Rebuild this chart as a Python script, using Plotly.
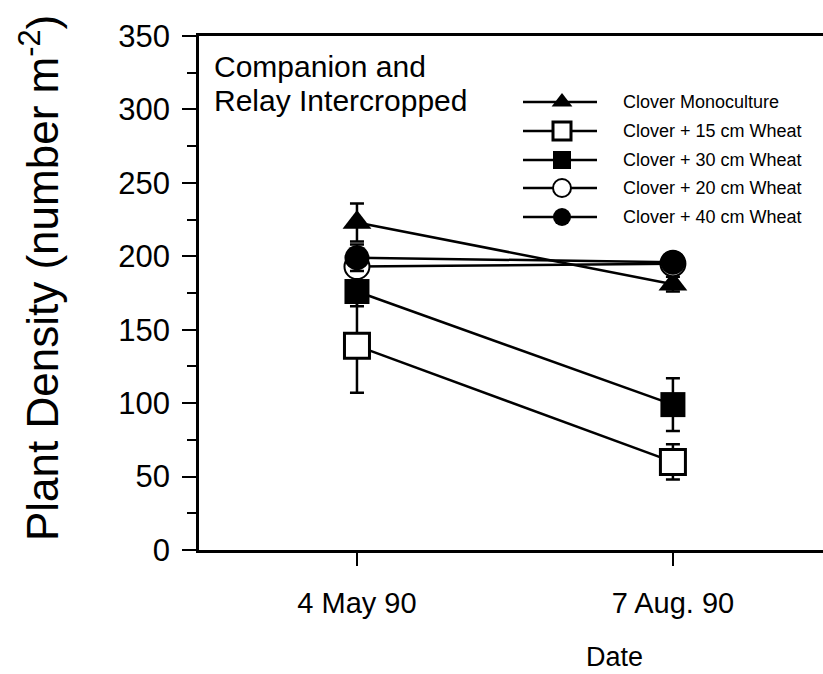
import plotly.graph_objects as go

# ---------------- data ----------------
dates = ["4 May 90", "7 Aug. 90"]
series_names = ["Clover Monoculture", "Clover + 15 cm Wheat", "Clover + 30 cm Wheat",
                "Clover + 20 cm Wheat", "Clover + 40 cm Wheat"]
mono = [223, 181]
mono_err = [13, 5]
w15 = [139, 60]
w15_err = [32, 12]
w30 = [176, 99]
w30_err = [10, 18]
w20 = [193, 195]
w20_err = [7, 6]
w40 = [199, 196]
w40_err = [9, 6]
y_ticks = [0, 50, 100, 150, 200, 250, 300, 350]

values = [mono, w15, w30, w20, w40]
errors = [mono_err, w15_err, w30_err, w20_err, w40_err]

# ---------------- styles ----------------
FONT = "Liberation Sans, Arial, Helvetica, sans-serif"
styles = [
    dict(symbol="triangle-up", color="black", lw=0, lc="black"),
    dict(symbol="square", color="white", lw=3, lc="black"),
    dict(symbol="square", color="black", lw=0, lc="black"),
    dict(symbol="circle", color="white", lw=2, lc="black"),
    dict(symbol="circle", color="black", lw=0, lc="black"),
]

W, H = 823, 674
L, R, T, B = 199, 0, 36, 124
PW, PH = W - L - R, H - T - B


def px(x):
    return (x - L) / PW


def py(y):
    return (H - B - y) / PH


fig = go.Figure()

for name, v, e, s in zip(series_names, values, errors, styles):
    fig.add_trace(go.Scatter(
        x=dates, y=v, name=name, mode="lines+markers",
        line=dict(color="black", width=2.5),
        marker=dict(symbol=s["symbol"], size=25, color=s["color"],
                    line=dict(color=s["lc"], width=s["lw"])),
        error_y=dict(type="data", array=e, visible=True, color="black",
                     thickness=2.5, width=7),
        showlegend=False, cliponaxis=False,
    ))

# ---------------- custom legend (overlay pixel axes) ----------------
leg_x0, leg_x1, leg_mx, leg_tx = 523, 597, 562, 621
leg_rows = [102, 131, 160, 188, 217]
for name, s, ry in zip(series_names, styles, leg_rows):
    fig.add_trace(go.Scatter(
        x=[leg_x0, leg_x1], y=[ry, ry], mode="lines",
        line=dict(color="black", width=2.5),
        xaxis="x2", yaxis="y2", showlegend=False, hoverinfo="skip", cliponaxis=False))
    fig.add_trace(go.Scatter(
        x=[leg_mx], y=[ry], mode="markers",
        marker=dict(symbol=s["symbol"], size=18, color=s["color"],
                    line=dict(color=s["lc"], width=s["lw"])),
        xaxis="x2", yaxis="y2", showlegend=False, hoverinfo="skip", cliponaxis=False))
    fig.add_annotation(x=px(leg_tx), y=py(ry), xref="paper", yref="paper",
                       text=name, showarrow=False, xanchor="left", yanchor="middle",
                       font=dict(family=FONT, size=18, color="black"))

# ---------------- text annotations ----------------
fig.add_annotation(x=px(212), y=py(66), xref="paper", yref="paper", text="Companion and",
                   showarrow=False, xanchor="left", yanchor="middle",
                   font=dict(family=FONT, size=30, color="black"))
fig.add_annotation(x=px(212), y=py(100), xref="paper", yref="paper", text="Relay Intercropped",
                   showarrow=False, xanchor="left", yanchor="middle",
                   font=dict(family=FONT, size=30, color="black"))
fig.add_annotation(x=px(614), y=py(657), xref="paper", yref="paper", text="Date",
                   showarrow=False, xanchor="center", yanchor="middle",
                   font=dict(family=FONT, size=27, color="black"))
fig.add_annotation(x=px(39), y=py(278), xref="paper", yref="paper",
                   text="Plant Density (number m<sup>-2</sup>)", textangle=-90,
                   showarrow=False, xanchor="center", yanchor="middle",
                   font=dict(family=FONT, size=44, color="black"))

fig.update_layout(
    width=W, height=H,
    margin=dict(l=L, r=R, t=T, b=B, pad=0),
    paper_bgcolor="white", plot_bgcolor="white",
    font=dict(family=FONT, color="black"),
    xaxis=dict(type="category", range=[-0.5, 1.475], showgrid=False, zeroline=False,
               showline=True, linecolor="black", linewidth=2.5, mirror=True,
               ticks="outside", ticklen=13, tickwidth=2, tickcolor="black",
               tickfont=dict(family=FONT, size=29, color="black"),
               ticklabelstandoff=12),
    yaxis=dict(range=[0, 350], tickvals=y_ticks, showgrid=False, zeroline=False,
               showline=True, linecolor="black", linewidth=2.5, mirror=False,
               ticks="outside", ticklen=14, tickwidth=2, tickcolor="black",
               tickfont=dict(family=FONT, size=31, color="black"),
               ticklabelstandoff=6,
               minor=dict(dtick=25, ticks="outside", ticklen=9, tickwidth=2,
                          tickcolor="black", showgrid=False)),
    xaxis2=dict(range=[L, W], domain=[0, 1], overlaying="x", anchor="y2", visible=False),
    yaxis2=dict(range=[H - B, T], domain=[0, 1], overlaying="y", anchor="x2", visible=False),
    showlegend=False,
)

fig.write_html("out.html")
